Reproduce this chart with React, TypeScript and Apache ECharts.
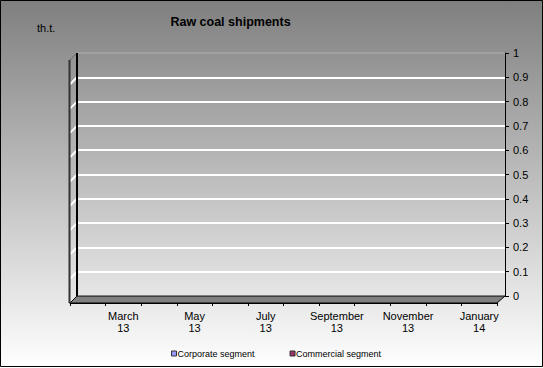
import React, { useEffect, useRef } from "react";
import * as echarts from "echarts";

const categories = [
  "February\n13", "March\n13", "April\n13", "May\n13", "June\n13", "July\n13",
  "August\n13", "September\n13", "October\n13", "November\n13", "December\n13", "January\n14",
];
const corporateSegment = [0, 0, 0, 0, 0, 0, 0, 0, 0, 0, 0, 0];
const commercialSegment = [0, 0, 0, 0, 0, 0, 0, 0, 0, 0, 0, 0];
const yTicks = [0, 0.1, 0.2, 0.3, 0.4, 0.5, 0.6, 0.7, 0.8, 0.9, 1];

const FONT = "'Liberation Sans', Arial, sans-serif";

export default function App() {
  const ref = useRef<HTMLDivElement>(null);
  useEffect(() => {
    const el = ref.current!;
    const chart = echarts.init(el, null, { renderer: "svg" });
    const BL = 77, BR = 505, BT = 53, BB = 296, D = 7;
    const option: any = {
      animation: false,
      backgroundColor: new echarts.graphic.LinearGradient(0, 0, 0, 1, [
        { offset: 0, color: "#7f7f7f" },
        { offset: 1, color: "#ffffff" },
      ]),
      textStyle: { fontFamily: FONT },
      title: {
        text: "Raw coal shipments",
        left: 225.5,
        top: 10,
        textAlign: "center",
        textStyle: { fontSize: 12.5, fontWeight: "bold", color: "#000", fontFamily: FONT },
      },
      legend: {
        left: 166,
        top: 344,
        itemWidth: 5,
        itemHeight: 5,
        itemGap: 35,
        icon: "rect",
        textStyle: { fontSize: 9, color: "#000", fontFamily: FONT, padding: [0, 0, 0, -4] },
        data: [
          { name: "Corporate segment", itemStyle: { borderColor: "#333", borderWidth: 1 } },
          { name: "Commercial segment", itemStyle: { borderColor: "#333", borderWidth: 1 } },
        ],
      },
      grid: [
        { left: BL, right: 543 - BR, top: BT, bottom: 368 - BB },
        { left: BL - D, right: 543 - BR + D + 1, top: BT + D, bottom: 368 - BB - D },
      ],
      xAxis: [
        { type: "category", gridIndex: 0, data: categories, show: false },
        {
          type: "category",
          gridIndex: 1,
          data: categories,
          axisLine: { lineStyle: { color: "#000", width: 1 } },
          axisTick: { show: true, length: 3, interval: 0, lineStyle: { color: "#000" } },
          axisLabel: {
            interval: (i: number) => i % 2 === 1,
            fontSize: 11,
            lineHeight: 12,
            color: "#000",
            margin: 7,
            fontFamily: FONT,
          },
          splitLine: { show: false },
        },
      ],
      yAxis: [
        {
          type: "value",
          gridIndex: 0,
          position: "right",
          min: 0,
          max: 1,
          interval: 0.1,
          axisLine: { show: true, lineStyle: { color: "#000", width: 1 } },
          axisTick: { show: true, length: 4, lineStyle: { color: "#000" } },
          axisLabel: {
            fontSize: 11,
            color: "#000",
            margin: 8,
            fontFamily: FONT,
            formatter: (v: number) => String(Math.round(v * 10) / 10),
          },
          splitLine: { show: true, lineStyle: { color: "#ffffff", width: 2 } },
        },
        { type: "value", gridIndex: 1, min: 0, max: 1, show: false },
      ],
      series: [
        {
          name: "Corporate segment",
          type: "bar",
          xAxisIndex: 1,
          yAxisIndex: 1,
          data: corporateSegment,
          itemStyle: { color: "#9999ff" },
        },
        {
          name: "Commercial segment",
          type: "bar",
          xAxisIndex: 1,
          yAxisIndex: 1,
          data: commercialSegment,
          itemStyle: { color: "#993366" },
        },
      ],
    };
    chart.setOption(option);

    const diag: any[] = yTicks.slice(1).map((v) => {
      const y = chart.convertToPixel({ yAxisIndex: 0 }, v) as number;
      return {
        type: "line",
        shape: { x1: BL - D, y1: y + D, x2: BL, y2: y },
        style: { stroke: v === 1 ? "#555" : "#ffffff", lineWidth: v === 1 ? 1 : 2, lineDash: v === 1 ? [2, 1] : null },
        z: 10,
      };
    });
    chart.setOption({
      graphic: [
        ...diag,
        {
          type: "polygon",
          shape: { points: [[BL - D, BB + D], [BL, BB], [BR, BB], [BR - D - 1, BB + D]] },
          style: { fill: "#808080", stroke: "#000", lineWidth: 1 },
          z: 10,
        },
        {
          type: "line",
          shape: { x1: BL, y1: BT, x2: BL, y2: BB },
          style: { stroke: "#000", lineWidth: 2 },
          z: 11,
        },
        {
          type: "line",
          shape: { x1: BL, y1: BT, x2: BR, y2: BT },
          style: { stroke: "#444", lineWidth: 1 },
          z: 9,
        },
        {
          type: "line",
          shape: { x1: BL - D - 0.5, y1: BT + D, x2: BL - D - 0.5, y2: BB + D },
          style: { stroke: "#333", lineWidth: 2 },
          z: 11,
        },
        {
          type: "text",
          left: 37,
          top: 22,
          style: { text: "th.t.", fontSize: 11, fill: "#000", fontFamily: FONT },
          z: 11,
        },
        {
          type: "rect",
          shape: { x: 0.5, y: 0.5, width: 542, height: 366 },
          style: { fill: "none", stroke: "#000", lineWidth: 1 },
          z: 12,
        },
      ],
    });
    return () => chart.dispose();
  }, []);
  return (
    <div
      ref={ref}
      style={{ position: "absolute", left: 0, top: 0, width: 543, height: 368 }}
    />
  );
}
